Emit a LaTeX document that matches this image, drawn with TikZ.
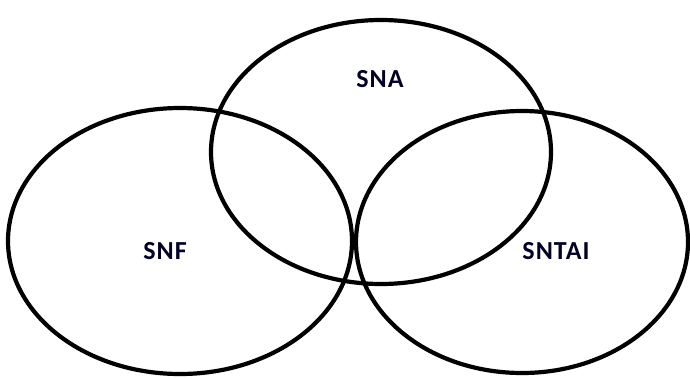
\documentclass[tikz,border=0pt]{standalone}
\usepackage{fontspec}
\setmainfont{Carlito}
\newfontfamily\lblfont[LetterSpace=4,BoldFont={Carlito Bold}]{Carlito}
\begin{document}
\begin{tikzpicture}[x=1pt,y=-1pt,
  setring/.style={draw=black,line width=4.2pt},
  setlabel/.style={font=\fontsize{26}{30}\selectfont\lblfont\bfseries,text=black!85!blue,inner sep=0pt}]
\useasboundingbox (0,0) rectangle (690,378);
\draw[setring] (180,241) ellipse [x radius=172, y radius=133];
\draw[setring] (381,152) ellipse [x radius=170, y radius=132];
\draw[setring] (522,242) ellipse [x radius=166, y radius=131];
\node[setlabel] (sna) at (380,79) {SNA};
\node[setlabel] (snf) at (165,251) {SNF};
\node[setlabel] (sntai) at (556,251) {SNTAI};
\end{tikzpicture}
\end{document}
